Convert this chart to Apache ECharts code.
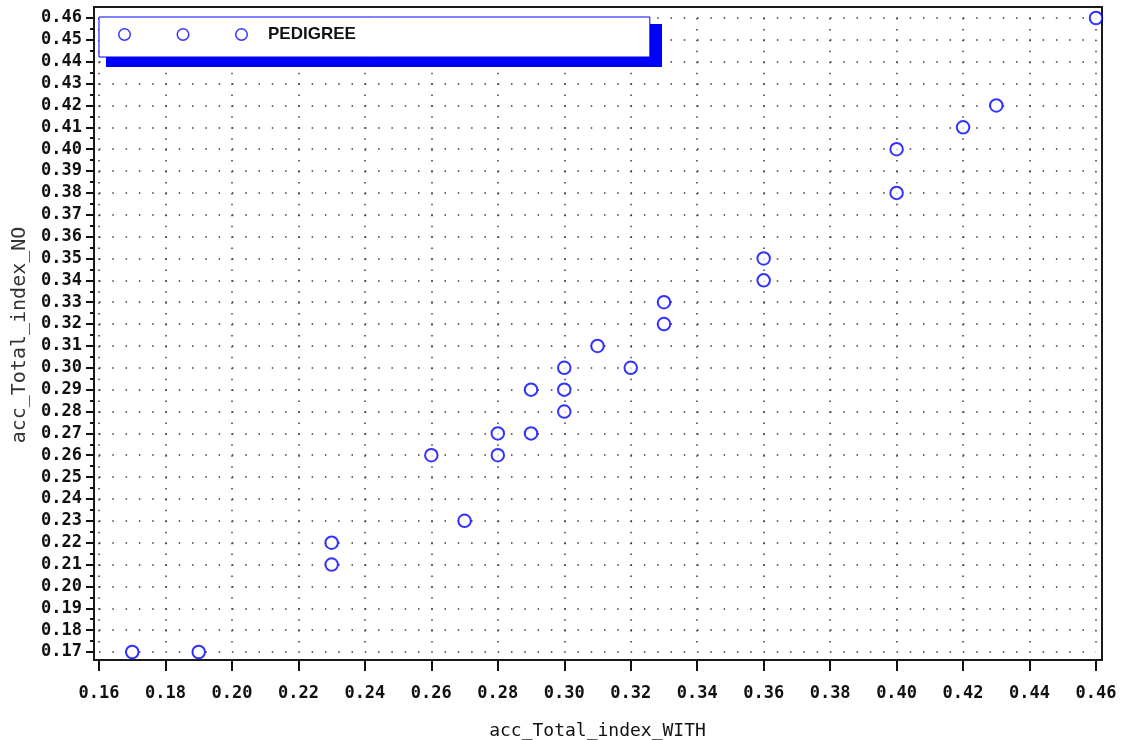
<!DOCTYPE html>
<html>
<head>
<meta charset="utf-8">
<title>acc_Total_index_NO vs acc_Total_index_WITH</title>
<script src="https://cdn.jsdelivr.net/npm/echarts@6/dist/echarts.min.js"></script>
<style>
  html, body { margin: 0; padding: 0; background: #ffffff; }
  #chart { width: 1128px; height: 740px; }
</style>
</head>
<body>
<div id="chart"></div>
<script>
// Accuracy of the total index, with pedigree (x) and without (y)
const accWith = [0.46, 0.43, 0.42, 0.40, 0.40, 0.36, 0.36, 0.33, 0.33, 0.31, 0.30, 0.32,
                 0.29, 0.30, 0.30, 0.28, 0.29, 0.26, 0.28, 0.27, 0.23, 0.23, 0.17, 0.19];
const accNo   = [0.46, 0.42, 0.41, 0.40, 0.38, 0.35, 0.34, 0.33, 0.32, 0.31, 0.30, 0.30,
                 0.29, 0.29, 0.28, 0.27, 0.27, 0.26, 0.26, 0.23, 0.22, 0.21, 0.17, 0.17];

const seriesName = 'PEDIGREE';
const xTitle = 'acc_Total_index_WITH';
const yTitle = 'acc_Total_index_NO';

// axis ranges and tick steps
const xRange = [0.16, 0.46], xStep = 0.02;
const yRange = [0.17, 0.46], yStep = 0.01;

const points = accWith.map((x, i) => [x, accNo[i]]);

const BLUE = '#0000ff';
const INK = '#111111';
const DOT = '#3a3a3a';
const tickFont = { fontFamily: 'DejaVu Sans Mono', fontWeight: 'bold', fontSize: 17, color: INK };

// legend marker: three hollow rings in one row
function ring(cx, cy, r, ri) {
  return 'M' + (cx - r) + ' ' + cy + ' A' + r + ' ' + r + ' 0 1 1 ' + (cx + r) + ' ' + cy +
         ' A' + r + ' ' + r + ' 0 1 1 ' + (cx - r) + ' ' + cy + ' Z' +
         ' M' + (cx - ri) + ' ' + cy + ' A' + ri + ' ' + ri + ' 0 1 0 ' + (cx + ri) + ' ' + cy +
         ' A' + ri + ' ' + ri + ' 0 1 0 ' + (cx - ri) + ' ' + cy + ' Z';
}
const legendIcon = 'path://' + ring(6.5, 6.5, 6.5, 5.0) + ' ' + ring(65, 6.5, 6.5, 5.0) + ' ' + ring(123.5, 6.5, 6.5, 5.0);

const chart = echarts.init(document.getElementById('chart'), null, { renderer: 'canvas' });

chart.setOption({
  backgroundColor: '#ffffff',
  animation: false,
  grid: [
    // outer frame
    { left: 94, right: 26, top: 7, bottom: 80, show: true, outerBoundsMode: 'none',
      borderColor: '#1a1a1a', borderWidth: 2, backgroundColor: 'transparent' },
    // data area
    { left: 99, right: 32, top: 18, bottom: 88, outerBoundsMode: 'none' }
  ],
  // solid drop shadow under the legend box
  graphic: [
    { type: 'rect', z: 3, silent: true,
      shape: { x: 106, y: 24, width: 556, height: 43 },
      style: { fill: BLUE } }
  ],
  legend: {
    data: [seriesName],
    left: 99,
    top: 17,
    z: 4,
    orient: 'horizontal',
    icon: legendIcon,
    itemWidth: 130,
    itemHeight: 13,
    padding: [9, 294, 14, 19],
    backgroundColor: '#ffffff',
    borderColor: BLUE,
    borderWidth: 1,
    itemStyle: { color: BLUE, borderWidth: 0 },
    textStyle: { fontFamily: 'Liberation Sans', fontWeight: 'bold', fontSize: 17,
                 color: INK, padding: [3, 0, 0, 15] },
    selectedMode: false
  },
  xAxis: [
    { gridIndex: 0, type: 'value', show: false, min: 0, max: 1 },
    {
      gridIndex: 1,
      type: 'value',
      min: xRange[0], max: xRange[1], interval: xStep,
      offset: 8,
      name: xTitle,
      nameLocation: 'middle',
      nameGap: 62,
      nameTextStyle: { fontFamily: 'DejaVu Sans Mono', fontSize: 18, color: INK },
      axisLine: { show: false },
      axisTick: { show: true, inside: false, length: 11, lineStyle: { color: INK, width: 2 } },
      axisLabel: { margin: 25, formatter: v => v.toFixed(2), ...tickFont },
      splitLine: { show: true, lineStyle: { color: DOT, width: 1.5, type: [1.5, 9.43] } }
    }
  ],
  yAxis: [
    { gridIndex: 0, type: 'value', show: false, min: 0, max: 1 },
    {
      gridIndex: 1,
      type: 'value',
      min: yRange[0], max: yRange[1], interval: yStep,
      offset: 5,
      name: yTitle,
      nameLocation: 'middle',
      nameGap: 64,
      nameTextStyle: { fontFamily: 'DejaVu Sans Mono', fontSize: 20, color: '#333333' },
      axisLine: { show: false },
      axisTick: { show: true, inside: false, length: 8, lineStyle: { color: INK, width: 2 } },
      minorTick: { show: true, splitNumber: 2, length: 4, lineStyle: { color: INK, width: 2 } },
      axisLabel: { margin: 12, formatter: v => v.toFixed(2), ...tickFont },
      splitLine: { show: true, lineStyle: { color: DOT, width: 1.5, type: [1.5, 11.79] } }
    }
  ],
  series: [
    {
      name: seriesName,
      type: 'scatter',
      xAxisIndex: 1,
      yAxisIndex: 1,
      data: points,
      symbol: 'emptyCircle',
      symbolSize: 12.5,
      clip: false,
      itemStyle: { color: BLUE, borderColor: BLUE, borderWidth: 1.7 }
    }
  ]
});
</script>
</body>
</html>
